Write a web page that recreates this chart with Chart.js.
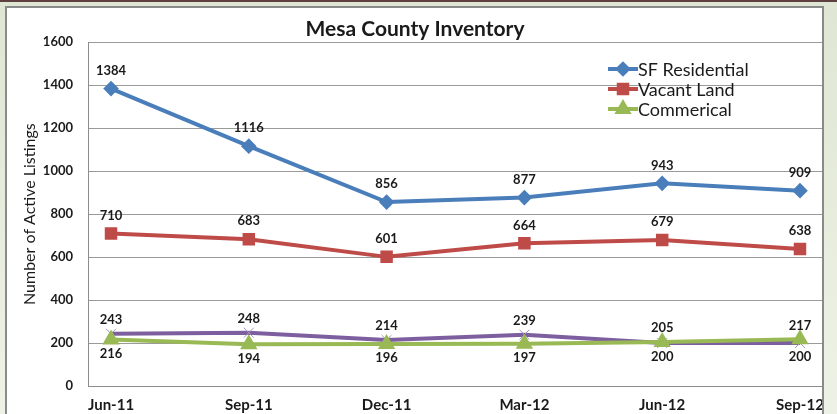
<!DOCTYPE html>
<html>
<head>
<meta charset="utf-8">
<script src="https://cdn.jsdelivr.net/npm/chart.js@4.4.1/dist/chart.umd.min.js"></script>
<style>
  html, body { margin: 0; padding: 0; }
  body { width: 837px; height: 414px; overflow: hidden; position: relative;
         background: linear-gradient(#dfe6d3, #eef2e6); }
  #topband { position: absolute; left: 0; top: 0; width: 837px; height: 2px; background: #5f4040; }
  #panel { position: absolute; left: 5px; top: 6px; width: 815px; height: 420px;
           background: #fff; border: 2px solid #8a8a8a; border-bottom: none; overflow: hidden; }
  #panel canvas { position: absolute; left: 0; top: 0; }
</style>
</head>
<body>
<div id="topband"></div>
<div id="panel"><canvas id="grafico" width="816" height="406"></canvas></div>
<script>
// Datos del gráfico
const categorias = ['Jun-11', 'Sep-11', 'Dec-11', 'Mar-12', 'Jun-12', 'Sep-12'];
const sfResidential = [1384, 1116, 856, 877, 943, 909];
const vacantLand = [710, 683, 601, 664, 679, 638];
const commerical = [216, 194, 196, 197, 205, 217];
const serieMorada = [243, 248, 214, 239, 200, 200]; // sin entrada en la leyenda
const ejeY = { min: 0, max: 1600, paso: 200 };

const fuente = 'Lato, "Open Sans", sans-serif';
const aPuntos = (valores) => valores.map((v, i) => ({ x: i, y: v }));

// Etiquetas de valores sobre / bajo cada punto
const etiquetas = {
  id: 'etiquetas',
  afterDatasetsDraw(chart) {
    const ctx = chart.ctx;
    ctx.save();
    ctx.font = 'bold 13px ' + fuente;
    ctx.fillStyle = '#1a1a1a';
    ctx.textAlign = 'center';
    ctx.textBaseline = 'middle';
    chart.data.datasets.forEach((ds, di) => {
      chart.getDatasetMeta(di).data.forEach((pt, i) => {
        const v = ds.data[i].y;
        let arriba = true;
        if (di === 2) arriba = v > serieMorada[i];
        if (di === 3) arriba = v >= commerical[i];
        const dy = di < 2 ? -18 : (arriba ? -14 : 14);
        ctx.fillText(String(v), pt.x, pt.y + dy);
      });
    });
    ctx.restore();
  }
};

// Leyenda dibujada dentro del área del gráfico
const leyenda = {
  id: 'leyenda',
  afterDraw(chart) {
    const ctx = chart.ctx;
    ctx.save();
    ctx.font = '18px ' + fuente;
    ctx.textBaseline = 'middle';
    for (let i = 0; i < 3; i++) {
      const ds = chart.data.datasets[i];
      const y = 61 + i * 20;
      ctx.strokeStyle = ds.borderColor;
      ctx.lineWidth = 4;
      ctx.beginPath();
      ctx.moveTo(601, y);
      ctx.lineTo(631, y);
      ctx.stroke();
      Chart.helpers.drawPoint(ctx, {
        pointStyle: ds.pointStyle, radius: ds.pointRadius, rotation: 0,
        borderWidth: 1
      }, 616, y);
      ctx.fillStyle = ds.pointBackgroundColor;
      ctx.fill();
      ctx.fillStyle = '#1a1a1a';
      ctx.fillText(ds.label, 631, y + 1);
    }
    ctx.restore();
  }
};

new Chart(document.getElementById('grafico'), {
  type: 'line',
  data: {
    datasets: [{
      label: 'SF Residential',
      data: aPuntos(sfResidential),
      borderColor: '#4a7ebb',
      borderWidth: 4,
      pointStyle: 'rectRot',
      pointRadius: 5,
      pointBackgroundColor: '#4a7ebb',
      pointBorderColor: '#4a7ebb'
    }, {
      label: 'Vacant Land',
      data: aPuntos(vacantLand),
      borderColor: '#be4b48',
      borderWidth: 4,
      pointStyle: 'rect',
      pointRadius: 6,
      pointBackgroundColor: '#be4b48',
      pointBorderColor: '#be4b48'
    }, {
      label: 'Commerical',
      data: aPuntos(commerical),
      borderColor: '#98b954',
      borderWidth: 4,
      pointStyle: 'triangle',
      pointRadius: 6,
      pointBackgroundColor: '#98b954',
      pointBorderColor: '#98b954'
    }, {
      label: '',
      data: aPuntos(serieMorada),
      borderColor: '#7d5fa0',
      borderWidth: 4,
      pointStyle: 'crossRot',
      pointRadius: 7,
      pointBorderWidth: 1,
      pointBackgroundColor: '#a592c4',
      pointBorderColor: '#a592c4'
    }]
  },
  options: {
    responsive: false,
    animation: false,
    layout: { padding: 0, autoPadding: false },
    plugins: {
      legend: { display: false },
      tooltip: { enabled: false },
      title: {
        display: true,
        text: 'Mesa County Inventory',
        color: '#1a1a1a',
        font: { family: fuente, size: 21, weight: 'bold' },
        padding: { top: 9, bottom: 0 }
      }
    },
    scales: {
      x: {
        type: 'linear',
        min: -0.167,
        max: 5.167,
        afterBuildTicks: (scale) => { scale.ticks = categorias.map((c, i) => ({ value: i })); },
        afterFit: (scale) => { scale.height = 28; scale.paddingLeft = 0; scale.paddingRight = 0; },
        ticks: {
          callback: (v) => categorias[v],
          autoSkip: false,
          maxRotation: 0,
          padding: 10,
          color: '#1a1a1a',
          font: { family: fuente, size: 15, weight: 'bold' }
        },
        grid: { display: false, drawTicks: false },
        border: { display: true, color: '#8c8c8c', width: 1 }
      },
      y: {
        min: ejeY.min,
        max: ejeY.max,
        afterFit: (scale) => { scale.width = 81; },
        ticks: {
          stepSize: ejeY.paso,
          padding: 15,
          callback: (v) => String(v),
          color: '#1a1a1a',
          font: { family: fuente, size: 13, weight: 'bold' }
        },
        grid: { color: '#9a9a9a', lineWidth: 1, drawTicks: false },
        border: { display: true, color: '#8c8c8c', width: 1 },
        title: {
          display: true,
          text: 'Number of Active Listings',
          color: '#1a1a1a',
          font: { family: fuente, size: 16 },
          padding: { top: 13, bottom: 0 }
        }
      }
    }
  },
  plugins: [etiquetas, leyenda]
});
</script>
</body>
</html>
